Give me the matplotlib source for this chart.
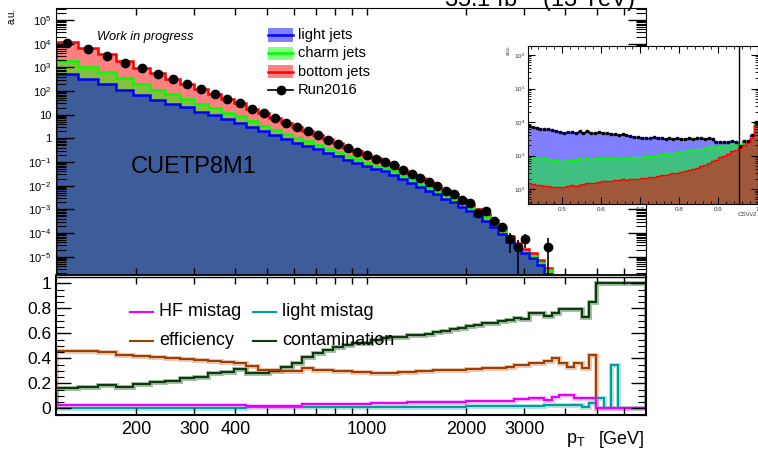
import numpy as np
import matplotlib
matplotlib.use('Agg')
import matplotlib.pyplot as plt
from matplotlib.lines import Line2D
from matplotlib.patches import Rectangle
from matplotlib.ticker import FixedLocator, LogLocator, NullFormatter, MultipleLocator, FuncFormatter, NullLocator

plt.rcParams['font.family'] = ['Liberation Sans', 'DejaVu Sans']
plt.rcParams['mathtext.default'] = 'regular'

# jet pT binning (GeV)
pt_edges = [114, 133, 153, 174, 196, 220, 245, 272, 300, 330, 362, 395, 430, 468, 507, 548, 592, 638, 686,
            737, 790, 846, 905, 967, 1032, 1101, 1172, 1248, 1327, 1410, 1497, 1588, 1684, 1784, 1890, 2000,
            2116, 2238, 2366, 2500, 2640, 2787, 2941, 3103, 3273, 3450, 3637, 3832, 4037, 4252, 4477, 4713,
            4961, 5220, 5492, 5777, 6076, 6389, 6717, 7000]

# stacked MC (a.u.)
light_jets = [525, 316, 200, 112, 67.6, 43.6, 29.5, 20.4, 13.5, 9.3, 6.3, 4.57, 2.88, 2.0, 1.38, 0.933, 0.661,
              0.479, 0.339, 0.245, 0.178, 0.126, 0.0912, 0.0676, 0.0513, 0.0398, 0.0288, 0.0186, 0.0129,
              0.0087, 0.006, 0.00437, 0.00282, 0.002, 0.00129, 8.3e-4, 5.1e-4, 3.3e-4, 1.82e-4, 9.3e-5,
              4.27e-5, 2.51e-5, 1.38e-5, 8.5e-6, 4.47e-6, 1.86e-6,
              0, 0, 0, 0, 0, 0, 0, 0, 0, 0, 0, 0, 0]
charm_jets = [1300, 731, 431, 227, 123, 71, 42.9, 26.4, 15.3, 9.8, 6.0, 3.94, 2.37, 1.47, 0.91, 0.58, 0.386,
              0.262, 0.174, 0.118, 0.079, 0.052, 0.0378, 0.0257, 0.0195, 0.0152, 0.011, 0.0071, 0.0049,
              0.0033, 0.0023, 0.00163, 0.00107, 7.5e-4, 4.9e-4, 3.2e-4, 1.95e-4, 1.26e-4, 6.9e-5, 3.6e-5,
              1.1e-5, 3.7e-6, 1.7e-6, 2.7e-6, 1.15e-6, 8.9e-7,
              0, 0, 0, 0, 0, 0, 0, 0, 0, 0, 0, 0, 0]
bottom_jets = [10200, 5260, 2920, 1440, 764, 435, 259, 157, 91, 56.8, 34.5, 22.4, 12.9, 8.0, 4.95, 3.06, 1.97,
               1.30, 0.837, 0.549, 0.36, 0.229, 0.153, 0.102, 0.0702, 0.050, 0.0343, 0.0211, 0.0138,
               0.0089, 0.0058, 0.004, 0.00241, 0.00162, 9.7e-4, 5.9e-4, 3.4e-4, 2.04e-4, 1.04e-4, 4.9e-5,
               2.04e-5, 1.01e-5, 4.9e-6, 3.6e-6, 1.62e-6, 7.2e-7,
               0, 0, 0, 0, 0, 0, 0, 0, 0, 0, 0, 0, 0]

nan = np.nan
run2016 = [11000, 5750, 3090, 1585, 912, 525, 324, 200, 117, 74.1, 45.7, 30.2, 17.0, 11.2, 7.08, 4.47, 2.95,
           2.0, 1.32, 0.891, 0.603, 0.398, 0.275, 0.191, 0.138, 0.102, 0.0741, 0.0457, 0.0309, 0.0204,
           0.0138, 0.0100, 0.00617, 0.00447, 0.00251, 0.00182, 7.2e-4, 8.5e-4, 3.3e-4, 1.74e-4, 5.6e-5,
           2.6e-5, 5.6e-5, nan, nan, 2.6e-5,
           nan, nan, nan, nan, nan, nan, nan, nan, nan, nan, nan, nan, nan]
run2016_err = [0, 0, 0, 0, 0, 0, 0, 0, 0, 0, 0, 0, 0, 0, 0, 0, 0, 0, 0, 0, 0, 0, 0, 0, 0, 0, 0, 0, 0, 0,
               0, 0, 0, 0, 0, 0, 0, 0, 0, 0, 4.2e-5, 2.6e-5, 3.2e-5, 0, 0, 3.4e-5,
               0, 0, 0, 0, 0, 0, 0, 0, 0, 0, 0, 0, 0]

# ratio panel
hf_mistag = [0.026, 0.026, 0.026, 0.026, 0.026, 0.026, 0.026, 0.026, 0.026, 0.026, 0.026, 0.026,
             0.018, 0.018, 0.018, 0.018, 0.018, 0.038, 0.038, 0.038, 0.038, 0.038, 0.038, 0.038,
             0.04, 0.04, 0.04, 0.04, 0.047, 0.047, 0.047, 0.047, 0.047, 0.047, 0.047,
             0.058, 0.058, 0.058, 0.058, 0.058, 0.058, 0.075, 0.075, 0.08, 0.08, 0.068, 0.093,
             0.107, 0.107, 0.08, 0.085, 0.085, 0, 0, 0, 0, 0, 0, 0]
light_mistag = [0.005, 0.005, 0.005, 0.005, 0.005, 0.005, 0.005, 0.005, 0.005, 0.005, 0.005, 0.005,
                0.008, 0.008, 0.008, 0.008, 0.008, 0.008, 0.008, 0.008, 0.008, 0.008, 0.008, 0.008,
                0.013, 0.013, 0.013, 0.013, 0.013, 0.013, 0.013, 0.013, 0.013, 0.013, 0.013,
                0.018, 0.018, 0.018, 0.018, 0.018, 0.018, 0.018, 0.018, 0.018, 0.018,
                0.024, 0.024, 0.024, 0.03, 0.03, 0.013, 0.045, 0.08, 0, 0.346, 0, 0, 0, 0]
efficiency = [0.461, 0.461, 0.45, 0.426, 0.42, 0.413, 0.40, 0.395, 0.39, 0.38,
              0.373, 0.365, 0.335, 0.31, 0.306, 0.302, 0.30, 0.32, 0.31, 0.305,
              0.30, 0.295, 0.29, 0.288, 0.285, 0.283, 0.283, 0.29, 0.293, 0.295,
              0.30, 0.305, 0.306, 0.31, 0.31, 0.314, 0.315, 0.32, 0.325, 0.325,
              0.33, 0.346, 0.346, 0.36, 0.36, 0.38, 0.405, 0.36, 0.328, 0.365,
              0.32, 0.426, 0, 0, 0, 0, 0, 0, 0]
contamination = [0.16, 0.173, 0.186, 0.173, 0.192, 0.208, 0.218, 0.24, 0.253, 0.28,
                 0.293, 0.314, 0.28, 0.285, 0.298, 0.333, 0.36, 0.408, 0.44, 0.466,
                 0.488, 0.506, 0.525, 0.525, 0.55, 0.56, 0.57, 0.573, 0.585, 0.59,
                 0.595, 0.61, 0.618, 0.635, 0.64, 0.66, 0.666, 0.68, 0.68, 0.70,
                 0.706, 0.725, 0.714, 0.76, 0.76, 0.741, 0.76, 0.794, 0.794, 0.794,
                 0.733, 0.853, 1, 1, 1, 1, 1, 1, 1]

# inset: CSVv2 discriminator
csv_edges = np.linspace(0.41, 1.0, 60)
csv_bottom = [150, 140, 135, 130, 125, 120, 118, 115, 112, 118, 125, 130, 128, 135, 140, 150, 148, 155, 165, 170,
              175, 172, 185, 190, 195, 190, 200, 205, 200, 210, 220, 230, 235, 245, 255, 270, 285, 300, 310, 330,
              350, 380, 410, 440, 480, 540, 600, 680, 760, 900, 1000, 1150, 1400, 1500, 1700, 2100, 2500, 3300, 8000]
csv_charm = [750, 740, 715, 670, 695, 660, 642, 605, 578, 582, 635, 590, 612, 685, 650, 690, 652, 675, 705, 680,
             685, 668, 685, 710, 665, 660, 670, 675, 700, 710, 730, 750, 765, 805, 845, 880, 895, 930, 970, 1000,
             1030, 1040, 1070, 1080, 1100, 1110, 1150, 1370, 1090, 1000, 1000, 950, 1000, 800, 150, 400, 150, 300, 1000]
csv_light = [6500, 6120, 5750, 5400, 5480, 5220, 4940, 4580, 4210, 4100, 4140, 4480, 4060, 4480, 3910, 4460, 3900,
             3770, 4130, 3850, 3940, 3660, 3530, 3300, 3440, 3150, 2930, 2720, 2600, 2380, 2350, 2420, 2500, 2250,
             2300, 2050, 2120, 1970, 2020, 1870, 1820, 1880, 1720, 1780, 1720, 1550, 1550, 1050, 750, 600, 600,
             400, 300, 200, 100, 200, 150, 600, 1000]
csv_data = [7400, 7000, 6600, 6200, 6300, 6000, 5700, 5300, 4900, 4800, 4900, 5200, 4800, 5300, 4700, 5300, 4700,
            4600, 5000, 4700, 4800, 4500, 4400, 4200, 4300, 4000, 3800, 3600, 3500, 3300, 3300, 3400, 3500, 3300,
            3400, 3200, 3300, 3200, 3300, 3200, 3200, 3300, 3200, 3300, 3300, 3200, 3300, 3100, 2600, 2500, 2600,
            2500, 2700, 2500, 1950, 2700, 2800, 4200, 10000]
csv_cut = 0.9535

W, H = 758, 458


def fx(x):
    return x / W


def fy(y):
    return 1 - y / H


def rect(x0, y0, x1, y1):
    return [fx(x0), fy(y1), fx(x1) - fx(x0), fy(y0) - fy(y1)]


fig = plt.figure(figsize=(W / 100, H / 100), dpi=100)
ax = fig.add_axes(rect(55.5, 8, 645.6, 275))
axr = fig.add_axes(rect(55.5, 276.5, 645.6, 415))
axi = fig.add_axes(rect(528.3, 46, 757.5, 204))

edges = np.array(pt_edges, dtype=float)
centers = 0.5 * (edges[1:] + edges[:-1])
floor = 1e-12
top_l = np.array(light_jets)
top_c = top_l + np.array(charm_jets)
top_b = top_c + np.array(bottom_jets)


def pos(a):
    return np.where(a > 0, a, floor)


# ---- upper panel
ax.set_xscale('log')
ax.set_yscale('log')
ax.stairs(pos(top_b), edges, baseline=floor, fill=True, color='#ff8080', lw=0)
ax.stairs(pos(top_c), edges, baseline=floor, fill=True, color='#84c040', lw=0)
ax.stairs(pos(top_l), edges, baseline=floor, fill=True, color='#3d5c9a', lw=0)
ax.stairs(pos(top_b), edges, baseline=floor, color='#ff0000', lw=1.8)
ax.stairs(pos(top_c), edges, baseline=floor, color='#00ff00', lw=1.8)
ax.stairs(pos(top_l), edges, baseline=floor, color='#0000ff', lw=1.8)
ax.errorbar(centers, run2016, yerr=run2016_err, fmt='o', color='black', ms=6, elinewidth=1.2, capsize=0, zorder=5)
ax.set_xlim(114, 7000)
ax.set_ylim(1.69e-6, 3.2e5)

xt_major = [200, 300, 400, 500, 600, 700, 800, 900, 1000, 2000, 3000, 4000, 5000, 6000]
xt_labels = {200: '200', 300: '300', 400: '400', 1000: '1000', 2000: '2000', 3000: '3000'}

ax.xaxis.set_major_locator(FixedLocator(xt_major))
ax.xaxis.set_minor_locator(NullLocator())
ax.xaxis.set_major_formatter(NullFormatter())
ax.yaxis.set_major_locator(LogLocator(base=10, numticks=20))
ax.yaxis.set_minor_locator(LogLocator(base=10, subs=np.arange(2, 10), numticks=20))
ax.yaxis.set_minor_formatter(NullFormatter())


def logfmt(v, p):
    n = int(round(np.log10(v)))
    if n == 0:
        return '1'
    if n == 1:
        return '10'
    return '$10^{%d}$' % n


ax.yaxis.set_major_formatter(FuncFormatter(logfmt))
ax.tick_params(axis='y', which='major', direction='in', length=13, width=1, labelsize=8, right=True, pad=3)
ax.tick_params(axis='y', which='minor', direction='in', length=7, width=0.8, right=True)
ax.tick_params(axis='x', which='major', direction='in', length=5, width=1, top=True)
ax.spines['bottom'].set_linewidth(1.3)

ax.text(fx(97), fy(37), 'Work in progress', transform=fig.transFigure, fontsize=9.2, style='italic',
        va='center', ha='left')
ax.text(fx(131), fy(167), 'CUETP8M1', transform=fig.transFigure, fontsize=17, va='center', ha='left')
fig.text(fx(12), fy(16), 'a.u.', rotation=90, fontsize=7, ha='center', va='center')
fig.text(fx(635), fy(7), '35.1 fb$^{-1}$ (13 TeV)', fontsize=17, ha='right', va='baseline')

# legend of upper panel
leg_rows = [('light jets', '#8080ff', '#0000ff'), ('charm jets', '#80ff80', '#00ff00'),
            ('bottom jets', '#ff8080', '#ff0000')]
for i, (lab, fc, lc) in enumerate(leg_rows):
    yc = 35 + 18.3 * i
    fig.add_artist(Rectangle((fx(268), fy(yc + 6.5)), fx(293) - fx(268), fy(yc - 6.5) - fy(yc + 6.5),
                             transform=fig.transFigure, facecolor=fc, edgecolor='none'))
    fig.add_artist(Line2D([fx(268), fx(293)], [fy(yc), fy(yc)], transform=fig.transFigure, color=lc, lw=1.8))
    fig.text(fx(298), fy(yc), lab, fontsize=10.5, va='center', ha='left')
yc = 90
fig.add_artist(Line2D([fx(268), fx(293)], [fy(yc), fy(yc)], transform=fig.transFigure, color='black', lw=1.2))
fig.add_artist(Line2D([fx(280.5)], [fy(yc)], transform=fig.transFigure, color='black', marker='o', ms=6))
fig.text(fx(298), fy(yc), 'Run2016', fontsize=10.5, va='center', ha='left')

# ---- ratio panel
axr.set_xscale('log')
ratio_series = [(contamination, '#0c3c0c', '#5f8f5f'), (efficiency, '#a04000', '#e0a080'),
                (light_mistag, '#00a0a0', '#80d0d0'), (hf_mistag, '#e800ff', '#f0a0ff')]
for vals, col, halo in ratio_series:
    axr.stairs(vals, edges, baseline=0, color=halo, lw=3.5, alpha=0.6)
for vals, col, halo in ratio_series:
    axr.stairs(vals, edges, baseline=0, color=col, lw=1.5)
axr.set_xlim(114, 7000)
axr.set_ylim(-0.054, 1.054)
axr.xaxis.set_major_locator(FixedLocator(xt_major))
axr.xaxis.set_minor_locator(NullLocator())
axr.xaxis.set_major_formatter(FuncFormatter(lambda v, p: xt_labels.get(int(round(v)), '')))
axr.yaxis.set_major_locator(MultipleLocator(0.2))
axr.yaxis.set_minor_locator(MultipleLocator(0.05))
axr.yaxis.set_major_formatter(FuncFormatter(lambda v, p: '%g' % round(v, 1)))
axr.tick_params(axis='x', which='major', direction='in', length=5, width=1, top=True, labelsize=13, pad=4)
axr.tick_params(axis='y', which='major', direction='in', length=11, width=1, right=True, labelsize=12.5, pad=3)
axr.tick_params(axis='y', which='minor', direction='in', length=6, width=0.8, right=True)
for s in axr.spines.values():
    s.set_linewidth(1.5)
axr.spines['top'].set_linewidth(1.0)
fig.text(fx(566), fy(440), 'p$_{T}$', fontsize=13, ha='left', va='center')
fig.text(fx(645), fy(440), '[GeV]', fontsize=13, ha='right', va='center')

leg2 = [('HF mistag', '#e800ff', 130, 159, 311.7), ('light mistag', '#00a0a0', 253, 282, 311.7),
        ('efficiency', '#a04000', 130, 159, 340.7), ('contamination', '#0c3c0c', 253, 282, 340.7)]
for lab, col, x0, xt, yc in leg2:
    fig.add_artist(Line2D([fx(x0), fx(x0 + 23)], [fy(yc), fy(yc)], transform=fig.transFigure, color=col, lw=1.5))
    fig.text(fx(xt), fy(yc), lab, fontsize=13, va='center', ha='left')

# ---- inset
cb = np.array(csv_bottom, dtype=float)
cc = cb + np.array(csv_charm)
cl = cc + np.array(csv_light)
axi.set_yscale('log')
axi.stairs(cl, csv_edges, baseline=1, fill=True, color='#8080ff', lw=0)
axi.stairs(cc, csv_edges, baseline=1, fill=True, color='#40c080', lw=0)
axi.stairs(cb, csv_edges, baseline=1, fill=True, color='#a0583a', lw=0)
axi.stairs(cl, csv_edges, baseline=1, color='#0000ff', lw=1)
axi.stairs(cc, csv_edges, baseline=1, color='#00ff00', lw=1)
axi.stairs(cb, csv_edges, baseline=1, color='#ff0000', lw=1)
csv_centers = 0.5 * (csv_edges[1:] + csv_edges[:-1])
axi.plot(csv_centers, csv_data, 's', color='black', ms=2)
axi.axvline(csv_cut, color='black', lw=1)
axi.set_xlim(0.414, 1.0)
axi.set_ylim(36, 1.85e6)
axi.xaxis.set_major_locator(MultipleLocator(0.1))
axi.xaxis.set_minor_locator(MultipleLocator(0.02))
axi.xaxis.set_major_formatter(FuncFormatter(lambda v, p: '%g' % round(v, 1)))
axi.yaxis.set_major_locator(LogLocator(base=10, numticks=10))
axi.yaxis.set_minor_locator(LogLocator(base=10, subs=np.arange(2, 10), numticks=10))
axi.yaxis.set_minor_formatter(NullFormatter())
axi.yaxis.set_major_formatter(FuncFormatter(lambda v, p: '$10^{%d}$' % int(round(np.log10(v)))))
axi.tick_params(which='major', direction='in', length=5, width=0.8, top=True, right=True, labelsize=4.5,
                pad=2, labelcolor='#333333')
axi.tick_params(which='minor', direction='in', length=2.5, width=0.6, top=True, right=True)
fig.text(fx(508), fy(50), 'a.u.', rotation=90, fontsize=4.5, ha='center', va='center', color='#333333')
fig.text(fx(757), fy(214), 'CSVv2', fontsize=4.5, ha='right', va='center', color='#333333')

fig.savefig('out.png', dpi=100)
